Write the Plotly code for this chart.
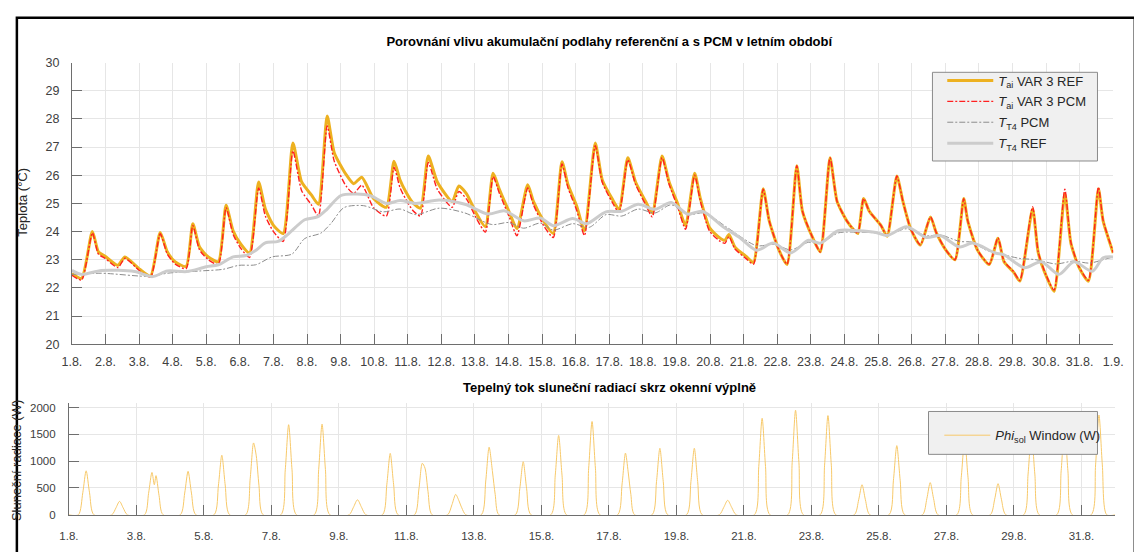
import plotly.graph_objects as go

W, H = 1134, 552

# ---- Room air temperature T_ai (time in days from 1.8. 00:00) ----
t_ai = [0.00, 0.29, 0.61, 0.79, 0.99, 1.37, 1.58, 2.02, 2.34, 2.63, 2.84, 3.07, 3.40, 3.60, 3.80,
        4.06, 4.36, 4.59, 4.80, 5.03, 5.29, 5.56, 5.76, 6.00, 6.29, 6.58, 6.84, 7.13, 7.34, 7.60,
        7.81, 8.16, 8.39, 8.63, 8.98, 9.36, 9.59, 9.77, 9.94, 10.15, 10.38, 10.61, 10.88, 11.32,
        11.52, 11.75, 12.05, 12.31, 12.54, 12.72, 13.01, 13.25, 13.57, 13.74, 14.04, 14.33, 14.59,
        14.77, 15.03, 15.26, 15.58, 15.79, 16.08, 16.29, 16.55, 16.78, 17.08, 17.28, 17.57, 17.78,
        18.04, 18.27, 18.54, 18.71, 18.98, 19.27, 19.44, 19.56, 19.74, 20.09, 20.29, 20.58, 20.76,
        21.05, 21.29, 21.58, 21.75, 22.05, 22.28, 22.57, 22.78, 23.07, 23.30, 23.40, 23.57, 23.74,
        24.09, 24.27, 24.56, 24.74, 24.97, 25.26, 25.56, 25.73, 26.02, 26.29, 26.55, 26.67, 26.96,
        27.31, 27.57, 27.75, 28.04, 28.22, 28.60, 28.77, 29.01, 29.24, 29.56, 29.74, 29.97, 30.26,
        30.56, 30.70, 31.00]

ai_ref = [22.50, 22.34, 24.00, 23.28, 23.12, 22.80, 23.10, 22.66, 22.42, 23.97, 23.28, 22.93, 22.76, 24.28, 23.45,
          23.10, 22.93, 24.93, 24.03, 23.55, 23.24, 25.76, 24.80, 24.22, 23.93, 27.14, 25.76, 25.30, 24.97, 28.10,
          26.80, 26.03, 25.70, 25.93, 25.17, 24.86, 26.50, 25.83, 25.41, 25.02, 24.83, 26.68, 25.76, 25.07,
          25.62, 25.34, 24.62, 24.17, 26.07, 25.52, 24.72, 24.10, 25.66, 25.07, 24.38, 23.93, 26.48,
          25.66, 24.90, 24.03, 27.14, 25.83, 25.17, 24.79, 26.62, 25.76, 25.07, 24.66, 26.68, 25.76,
          24.97, 24.21, 26.07, 25.17, 24.14, 23.79, 23.69, 23.90, 23.45, 23.10, 22.90, 25.52, 24.38,
          23.34, 22.83, 26.34, 24.72, 23.79, 23.28, 26.62, 25.07, 24.38, 24.03, 23.93, 25.17, 24.72,
          24.21, 23.83, 25.97, 25.07, 24.10, 23.52, 24.52, 23.97, 23.34, 23.00, 25.17, 24.38, 23.34,
          22.83, 23.76, 22.93, 22.55, 22.24, 24.80, 23.24, 22.41, 21.88, 25.34, 23.59, 22.76, 22.24,
          25.52, 24.38, 23.24]

ai_pcm = [22.45, 22.28, 23.95, 23.20, 23.05, 22.72, 23.05, 22.60, 22.38, 23.92, 23.20, 22.85, 22.68, 24.22, 23.35,
          23.00, 22.83, 24.85, 23.90, 23.40, 23.08, 25.55, 24.55, 24.00, 23.65, 26.86, 25.45, 24.95, 24.55, 27.75,
          26.50, 25.62, 25.35, 25.65, 24.85, 24.55, 26.28, 25.55, 25.15, 24.75, 24.55, 26.45, 25.50, 24.86,
          25.42, 25.15, 24.45, 23.98, 25.95, 25.38, 24.55, 23.85, 25.55, 24.95, 24.22, 23.79, 26.40,
          25.55, 24.75, 23.86, 27.05, 25.75, 25.05, 24.68, 26.55, 25.68, 24.95, 24.52, 26.62, 25.68,
          24.85, 24.08, 26.00, 25.08, 24.02, 23.68, 23.58, 23.82, 23.38, 23.02, 22.84, 25.50, 24.38,
          23.34, 22.84, 26.34, 24.72, 23.79, 23.28, 26.62, 25.07, 24.38, 24.03, 23.93, 25.17, 24.72,
          24.21, 23.84, 25.97, 25.07, 24.10, 23.53, 24.52, 23.97, 23.34, 23.00, 25.17, 24.38, 23.34,
          22.84, 23.78, 22.95, 22.57, 22.26, 24.88, 23.26, 22.43, 21.92, 25.50, 23.62, 22.78, 22.27,
          25.58, 24.40, 23.26]

# ---- Floor layer temperature T_T4 ----
t_t4_ref = [0.00, 0.29, 0.88, 1.87, 2.40, 2.84, 3.42, 4.00, 4.36, 4.80, 5.18, 5.47, 5.76, 6.14, 6.43,
            6.93, 7.31, 7.60, 8.01, 8.48, 8.89, 9.36, 9.77, 10.24, 10.94, 11.70, 12.40, 12.87, 13.45,
            13.95, 14.33, 14.91, 15.32, 15.90, 16.37, 16.86, 17.36, 17.84, 18.33, 18.77, 19.42, 19.88,
            20.38, 20.88, 21.40, 21.93, 22.28, 22.81, 23.40, 23.94, 24.27, 24.85, 25.44, 25.85, 26.43,
            26.81, 27.49, 27.75, 28.36, 28.86, 29.39, 29.83, 30.38, 30.70, 31.00]
t4_ref = [22.62, 22.48, 22.62, 22.58, 22.40, 22.60, 22.58, 22.75, 22.82, 23.10, 23.15, 23.33, 23.60, 23.65, 23.90,
          24.42, 24.52, 24.80, 25.28, 25.33, 25.27, 25.00, 25.10, 25.00, 25.12, 24.97, 24.62, 24.74, 24.38,
          24.48, 24.21, 24.46, 24.28, 24.70, 24.72, 24.97, 24.79, 25.03, 24.62, 24.72, 24.14, 23.79,
          23.34, 23.59, 23.24, 23.69, 23.59, 24.03, 24.03, 23.97, 23.86, 24.17, 23.79, 23.86, 23.45,
          23.59, 23.24, 23.17, 22.72, 22.93, 22.48, 22.93, 22.59, 23.07, 23.10]

t_t4_pcm = [0.00, 0.88, 2.34, 2.84, 3.80, 4.50, 4.97, 5.47, 5.96, 6.55, 6.93, 7.42, 7.72, 8.10, 8.68,
            9.27, 9.77, 10.24, 10.94, 11.70, 12.50, 13.00, 13.45, 13.95, 14.33, 14.91, 15.40, 15.90,
            16.37, 16.86, 17.36, 17.84, 18.33, 18.83, 19.50, 20.38, 20.91, 21.40, 21.93, 22.28, 22.81,
            23.39, 23.95, 24.27, 24.85, 25.44, 25.85, 26.43, 26.81, 27.20, 27.60, 28.20, 28.70, 29.30,
            29.80, 30.30, 30.70, 31.00]
t4_pcm = [22.48, 22.52, 22.41, 22.52, 22.60, 22.66, 22.80, 22.82, 23.10, 23.20, 23.75, 23.95, 24.30, 24.85, 24.92,
          24.70, 24.80, 24.60, 24.83, 24.66, 24.25, 24.32, 24.12, 24.30, 24.05, 24.28, 24.15, 24.60,
          24.55, 24.80, 24.66, 24.95, 24.60, 24.66, 24.15, 23.50, 23.55, 23.35, 23.62, 23.58, 23.95,
          23.98, 23.95, 23.88, 24.10, 23.85, 23.88, 23.65, 23.62, 23.35, 23.22, 23.05, 23.00, 22.85,
          22.95, 22.88, 23.00, 23.10]

# ---- Solar heat gain through the windows ----
sol_t = [0.00,
         0.28, 0.41, 0.51, 0.61, 0.74,
         1.27, 1.39, 1.50, 1.61, 1.73,
         2.24, 2.36, 2.46, 2.53, 2.58, 2.67, 2.79,
         3.30, 3.43, 3.53, 3.63, 3.76,
         4.30, 4.43, 4.53, 4.63, 4.76,
         5.24, 5.37, 5.47, 5.55, 5.63, 5.75,
         6.28, 6.41, 6.51, 6.61, 6.74,
         7.27, 7.40, 7.50, 7.60, 7.73,
         8.30, 8.43, 8.55, 8.67, 8.80,
         9.29, 9.42, 9.52, 9.62, 9.75,
         10.24, 10.37, 10.47, 10.55, 10.64, 10.76,
         11.22, 11.35, 11.46, 11.55, 11.64, 11.76,
         12.22, 12.35, 12.45, 12.55, 12.63, 12.74,
         13.23, 13.36, 13.46, 13.56, 13.69,
         14.28, 14.41, 14.51, 14.61, 14.74,
         15.27, 15.40, 15.50, 15.60, 15.73,
         16.26, 16.39, 16.49, 16.57, 16.65, 16.76,
         17.28, 17.41, 17.51, 17.61, 17.74,
         18.30, 18.43, 18.53, 18.63, 18.76,
         19.27, 19.40, 19.52, 19.64, 19.77,
         20.31, 20.44, 20.54, 20.64, 20.77,
         21.30, 21.43, 21.53, 21.63, 21.76,
         22.26, 22.39, 22.49, 22.59, 22.72,
         23.27, 23.40, 23.50, 23.60, 23.73,
         24.30, 24.43, 24.53, 24.63, 24.76,
         25.29, 25.42, 25.52, 25.62, 25.75,
         26.31, 26.44, 26.54, 26.64, 26.77,
         27.30, 27.43, 27.53, 27.63, 27.76,
         28.29, 28.42, 28.52, 28.62, 28.75,
         29.27, 29.40, 29.50, 29.60, 29.73,
         30.29, 30.42, 30.52, 30.62, 30.75,
         31.00]
sol_w = [0,
         0, 410, 820, 410, 0,
         0, 125, 250, 125, 0,
         0, 400, 790, 560, 730, 360, 0,
         0, 405, 810, 405, 0,
         0, 555, 1110, 555, 0,
         0, 670, 1340, 1100, 550, 0,
         0, 840, 1680, 840, 0,
         0, 845, 1690, 845, 0,
         0, 140, 280, 140, 0,
         0, 570, 1145, 570, 0,
         0, 480, 960, 870, 430, 0,
         0, 190, 380, 270, 130, 0,
         0, 630, 1260, 800, 380, 0,
         0, 495, 990, 495, 0,
         0, 740, 1480, 740, 0,
         0, 870, 1740, 870, 0,
         0, 575, 1150, 800, 380, 0,
         0, 620, 1240, 620, 0,
         0, 620, 1240, 620, 0,
         0, 135, 270, 135, 0,
         0, 900, 1800, 900, 0,
         0, 975, 1950, 975, 0,
         0, 925, 1850, 925, 0,
         0, 280, 560, 280, 0,
         0, 645, 1290, 645, 0,
         0, 300, 600, 300, 0,
         0, 700, 1400, 700, 0,
         0, 290, 580, 290, 0,
         0, 760, 1520, 760, 0,
         0, 820, 1640, 820, 0,
         0, 930, 1860, 930, 0,
         0]

# ---- Axis ticks ----
top_tickvals = list(range(0, 32))
top_ticktext = ["1.8.", "2.8.", "3.8.", "4.8.", "5.8.", "6.8.", "7.8.", "8.8.", "9.8.", "10.8.",
                "11.8.", "12.8.", "13.8.", "14.8.", "15.8.", "16.8.", "17.8.", "18.8.", "19.8.",
                "20.8.", "21.8.", "22.8.", "23.8.", "24.8.", "25.8.", "26.8.", "27.8.", "28.8.",
                "29.8.", "30.8.", "31.8.", "1.9."]
bot_tickvals = list(range(0, 31, 2))
bot_ticktext = ["1.8.", "3.8.", "5.8.", "7.8.", "9.8.", "11.8.", "13.8.", "15.8.", "17.8.",
                "19.8.", "21.8.", "23.8.", "25.8.", "27.8.", "29.8.", "31.8."]
temp_ticks = list(range(20, 31))
sol_ticks = [0, 500, 1000, 1500, 2000]


def px(x):
    return x / W


def py(y):
    return 1 - y / H


FONT = "Liberation Sans, Arial, Helvetica, sans-serif"
AXIS = "#6e6e6e"
GRID = "#e6e6e6"
TOP_TICKFONT = dict(family=FONT, size=12.5, color="#404040")
BOT_TICKFONT = dict(family=FONT, size=11.5, color="#404040")

fig = go.Figure()

fig.add_trace(go.Scatter(x=t_ai, y=ai_ref, mode="lines", name="<i>T</i><sub>ai</sub> VAR 3 REF",
                         legendgroup="a",
                         line=dict(color="#EDB120", width=3, shape="spline", smoothing=0.6),
                         xaxis="x", yaxis="y", legend="legend"))
fig.add_trace(go.Scatter(x=t_ai, y=ai_pcm, mode="lines", name="<i>T</i><sub>ai</sub> VAR 3 PCM",
                         legendgroup="b",
                         line=dict(color="#FF2020", width=1.4, dash="6px,2px,2px,2px",
                                   shape="spline", smoothing=0.6),
                         xaxis="x", yaxis="y", legend="legend"))
fig.add_trace(go.Scatter(x=t_t4_pcm, y=t4_pcm, mode="lines", name="<i>T</i><sub>T4</sub> PCM",
                         legendgroup="c",
                         line=dict(color="#8c8c8c", width=1, dash="6px,2px,2px,2px",
                                   shape="spline", smoothing=0.8),
                         xaxis="x", yaxis="y", legend="legend"))
fig.add_trace(go.Scatter(x=t_t4_ref, y=t4_ref, mode="lines", name="<i>T</i><sub>T4</sub> REF",
                         legendgroup="d",
                         line=dict(color="#CCCCCC", width=3, shape="spline", smoothing=0.8),
                         xaxis="x", yaxis="y", legend="legend"))
fig.add_trace(go.Scatter(x=sol_t, y=sol_w, mode="lines", name="<i>Phi</i><sub>sol</sub> Window (W)",
                         line=dict(color="#F7C96A", width=1, shape="spline", smoothing=0.8),
                         xaxis="x2", yaxis="y2", legend="legend2"))

axis_common = dict(showgrid=True, gridcolor=GRID, gridwidth=1, showline=True, linecolor=AXIS,
                   linewidth=1, ticks="inside", ticklen=10, tickcolor=AXIS, zeroline=False,
                   mirror=False)

fig.update_layout(
    width=W, height=H,
    margin=dict(l=0, r=0, t=0, b=0),
    paper_bgcolor="white", plot_bgcolor="white",
    font=dict(family=FONT, size=13, color="#262626"),
    xaxis=dict(domain=[px(63), px(1123)], range=[0, 31], tickvals=top_tickvals,
               ticktext=top_ticktext, anchor="y", ticklabelstandoff=6, tickfont=TOP_TICKFONT,
               **axis_common),
    yaxis=dict(domain=[py(346), py(57)], range=[20, 30], tickvals=temp_ticks, anchor="x",
               ticklabelstandoff=9, tickfont=TOP_TICKFONT, **axis_common),
    xaxis2=dict(domain=[px(60), px(1125)], range=[0, 31], tickvals=bot_tickvals,
                ticktext=bot_ticktext, anchor="y2", ticklabelstandoff=10, tickfont=BOT_TICKFONT,
                **axis_common),
    yaxis2=dict(domain=[py(521), py(406)], range=[0, 2090], tickvals=sol_ticks, anchor="x2",
                ticklabelstandoff=10, tickfont=BOT_TICKFONT, **axis_common),
    title=dict(text="<b>Porovnání vlivu akumulační podlahy referenční a s PCM v letním období</b>",
               x=px(610), xanchor="center", xref="paper", y=py(41), yanchor="middle",
               font=dict(family=FONT, size=13, color="#000000")),
    legend=dict(x=px(949), y=py(60), xanchor="left", yanchor="top", bgcolor="rgba(0,0,0,0)",
                borderwidth=0, itemwidth=46, tracegroupgap=1,
                font=dict(family=FONT, size=13, color="#262626")),
    legend2=dict(x=px(946), y=py(424), xanchor="left", yanchor="top", bgcolor="rgba(0,0,0,0)",
                 borderwidth=0, itemwidth=46,
                 font=dict(family=FONT, size=13, color="#262626")),
    showlegend=True,
)

# legend boxes, outer frame
fig.add_shape(type="rect", xref="paper", yref="paper", x0=px(939), x1=px(1107), y0=py(158), y1=py(67),
              fillcolor="#F0F0F0", line=dict(color="#8a8a8a", width=1), layer="above")
fig.add_shape(type="rect", xref="paper", yref="paper", x0=px(935), x1=px(1107), y0=py(459), y1=py(415),
              fillcolor="#F0F0F0", line=dict(color="#8a8a8a", width=1), layer="above")
fig.add_shape(type="rect", xref="paper", yref="paper", x0=px(7), x1=px(1145), y0=py(565), y1=py(11),
              fillcolor="rgba(0,0,0,0)", line=dict(color="#000000", width=2.5), layer="above")

fig.add_annotation(text="<b>Tepelný tok sluneční radiací skrz okenní výplně</b>", xref="paper", yref="paper",
                   x=px(610), y=py(390), xanchor="center", yanchor="middle", showarrow=False,
                   font=dict(family=FONT, size=13, color="#000000"))
fig.add_annotation(text="Teplota (°C)", xref="paper", yref="paper", x=px(13), y=py(200),
                   xanchor="center", yanchor="middle", showarrow=False, textangle=-90,
                   font=dict(family=FONT, size=13, color="#262626"))
fig.add_annotation(text="Sluneční radiace (W)", xref="paper", yref="paper", x=px(6), y=py(465),
                   xanchor="center", yanchor="middle", showarrow=False, textangle=-90,
                   font=dict(family=FONT, size=13, color="#262626"))

fig.write_html("out.html")
